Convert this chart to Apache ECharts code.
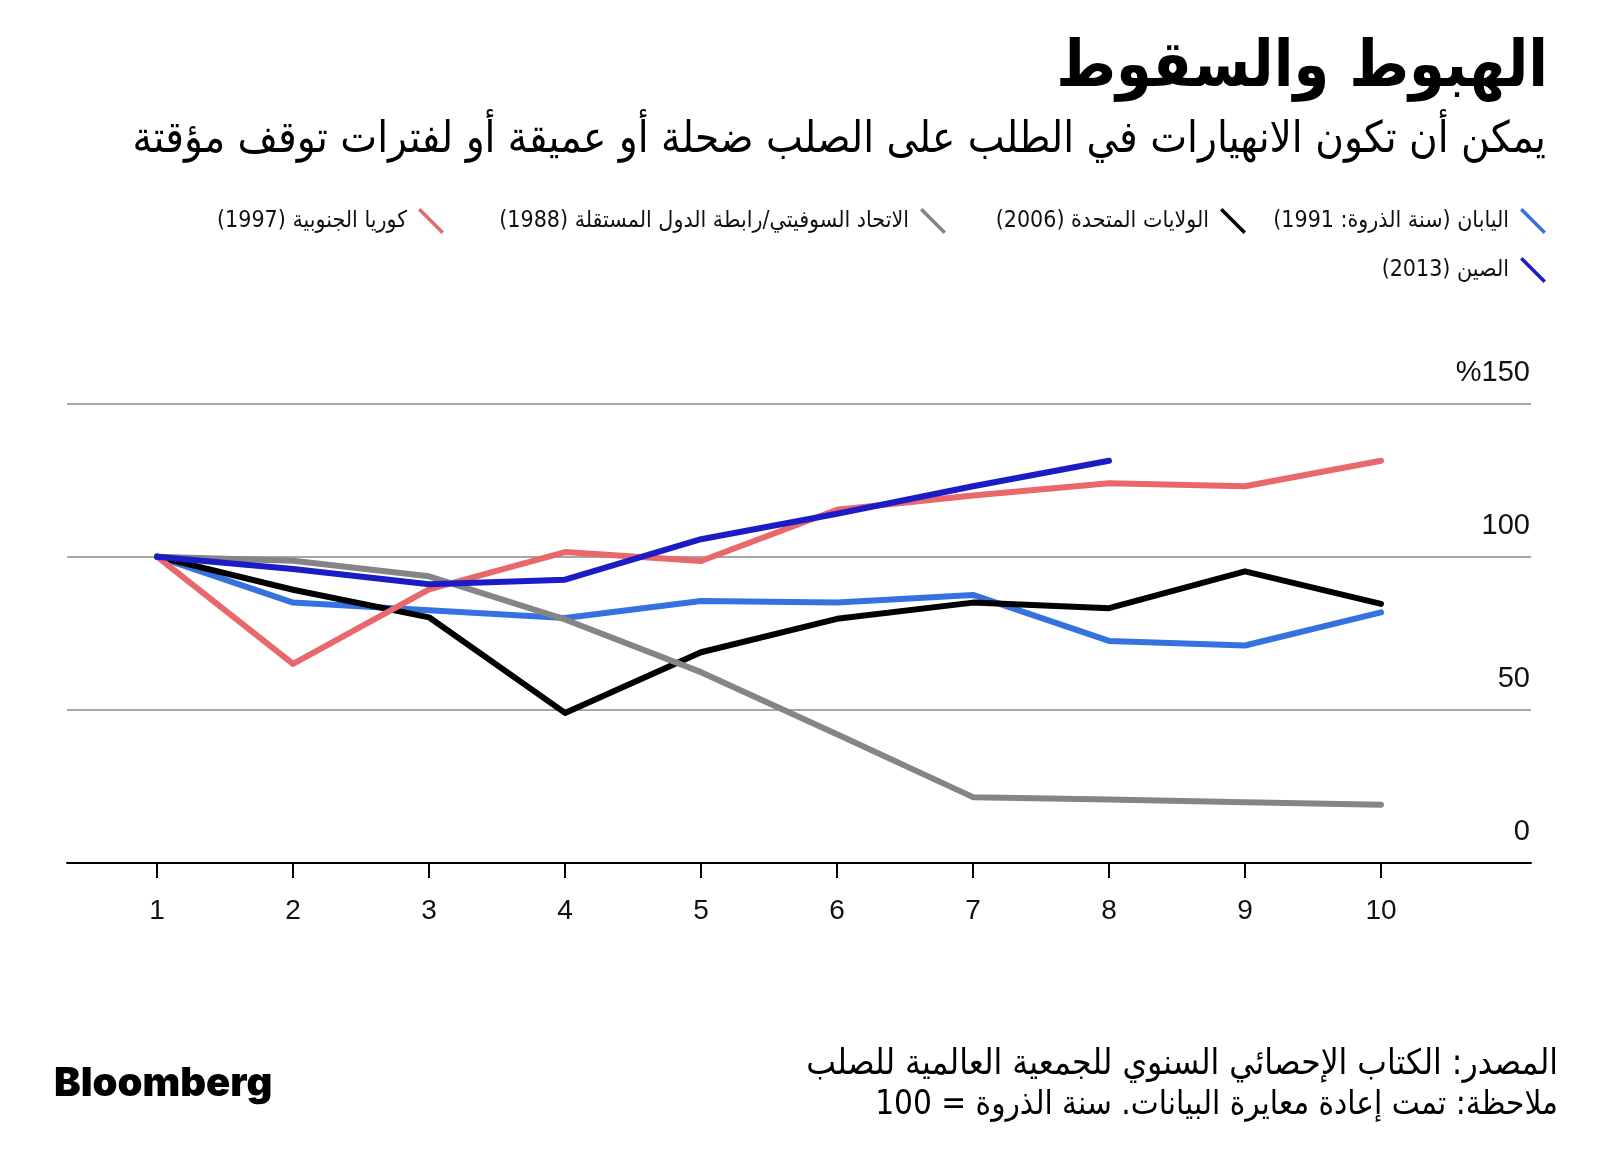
<!DOCTYPE html>
<html>
<head>
<meta charset="utf-8">
<script src="https://cdn.jsdelivr.net/npm/echarts@6/dist/echarts.min.js"></script>
<style>
html,body{margin:0;padding:0;background:#fff;}
#c{width:1600px;height:1161px;direction:rtl;}
</style>
</head>
<body>
<div id="c"></div>
<script>
// ---- data ----
const periods = [1, 2, 3, 4, 5, 6, 7, 8, 9, 10];
const japan  = [100, 85, 82.5, 80, 85.5, 85, 87.5, 72.5, 71, 81.8];
const usa    = [100, 89.2, 80.2, 49, 68.8, 79.7, 85, 83.2, 95.2, 84.6];
const ussr   = [100, 98.7, 93.6, 79.5, 62.3, 42, 21.5, 20.7, 19.8, 19];
const korea  = [100, 65, 89.3, 101.5, 98.6, 115.3, 120, 124, 123, 131.3];
const china  = [100, 96, 91, 92.5, 105.7, 114, 123, 131.3];
const yTicks = [0, 50, 100, 150];

const names = {
  japan: 'اليابان (سنة الذروة: 1991)',
  usa: 'الولايات المتحدة (2006)',
  ussr: 'الاتحاد السوفيتي/رابطة الدول المستقلة (1988)',
  korea: 'كوريا الجنوبية (1997)',
  china: 'الصين (2013)'
};
const colors = {
  japan: '#3572e0',
  usa: '#000000',
  ussr: '#858585',
  korea: '#e8686c',
  china: '#1c1cc6'
};

const pairs = vals => vals.map((v, i) => [periods[i], v]);
const arFont = "'DejaVu Sans Condensed','DejaVu Sans',sans-serif";
const numFont = "'Liberation Sans','Helvetica',Arial,sans-serif";
const icon = 'path://M0,2.5 L2.5,0 L26,23.5 L23.5,26 Z';

function mkSeries(key) {
  return {
    type: 'line',
    name: names[key],
    data: pairs({japan, usa, ussr, korea, china}[key]),
    showSymbol: false,
    symbol: 'none',
    color: colors[key],
    itemStyle: {color: colors[key]},
    lineStyle: {color: colors[key], width: 6, cap: 'round', join: 'round'},
    emphasis: {disabled: true},
    animation: false
  };
}
function mkLegend(key, right, top) {
  return {
    data: [{name: names[key], icon: icon, itemStyle: {color: colors[key], borderWidth: 0}}],
    right: right, top: top, align: 'right', orient: 'horizontal',
    itemWidth: 26, itemHeight: 26, itemGap: 0,
    selectedMode: false,
    textStyle: {fontFamily: arFont, fontSize: 23, color: '#111', padding: [0, 6, 0, 0]}
  };
}

const chart = echarts.init(document.getElementById('c'), null, {renderer: 'canvas'});
chart.setOption({
  backgroundColor: '#fff',
  animation: false,
  title: [
    {text: 'الهبوط والسقوط', right: 47, top: 26,
     textStyle: {fontFamily: arFont, fontWeight: 'bold', fontSize: 64, lineHeight: 76, color: '#000'}},
    {text: 'يمكن أن تكون الانهيارات في الطلب على الصلب ضحلة أو عميقة أو لفترات توقف مؤقتة', right: 49, top: 110,
     textStyle: {fontFamily: arFont, fontWeight: 'normal', fontSize: 43.5, lineHeight: 52, color: '#000'}},
    {text: 'المصدر: الكتاب الإحصائي السنوي للجمعية العالمية للصلب', right: 37, top: 1040,
     textStyle: {fontFamily: arFont, fontWeight: 'normal', fontSize: 35, lineHeight: 40, color: '#000'}},
    {text: 'ملاحظة: تمت إعادة معايرة البيانات. سنة الذروة = 100', right: 37, top: 1080,
     textStyle: {fontFamily: arFont, fontWeight: 'normal', fontSize: 33, lineHeight: 40, color: '#000'}},
    {text: 'Bloomberg', left: 49, top: 1056,
     textStyle: {fontFamily: "'Inter','Liberation Sans',sans-serif", fontWeight: 900, fontSize: 40, lineHeight: 46, color: '#000'}}
  ],
  legend: [
    mkLegend('japan', 49, 203),
    mkLegend('usa', 349, 203),
    mkLegend('ussr', 649, 203),
    mkLegend('korea', 1151, 203),
    mkLegend('china', 49, 252)
  ],
  grid: {left: 67, right: 69, top: 403.5, bottom: 298, containLabel: false},
  xAxis: {
    type: 'value', min: 0.338, max: 11.103,
    axisLine: {show: true, lineStyle: {color: '#000', width: 2}},
    axisTick: {show: true, length: 15, lineStyle: {color: '#000', width: 2}, customValues: periods},
    axisLabel: {show: true, customValues: periods, margin: 34, fontFamily: numFont, fontSize: 28, color: '#111',
                formatter: v => String(v)},
    splitLine: {show: false}
  },
  yAxis: {
    type: 'value', min: 0, max: 150, interval: 50, position: 'right',
    axisLine: {show: false}, axisTick: {show: false},
    splitLine: {show: true, lineStyle: {color: '#8a8a8a', width: 1.5}},
    axisLabel: {
      inside: true, margin: 1, fontFamily: numFont, fontSize: 29, color: '#111',
      verticalAlign: 'bottom', align: 'right', lineHeight: 30, padding: [0, 0, 16, 0],
      formatter: v => v === 150 ? '%150' : String(v)
    }
  },
  series: [mkSeries('japan'), mkSeries('usa'), mkSeries('ussr'), mkSeries('korea'), mkSeries('china')]
});
</script>
</body>
</html>
